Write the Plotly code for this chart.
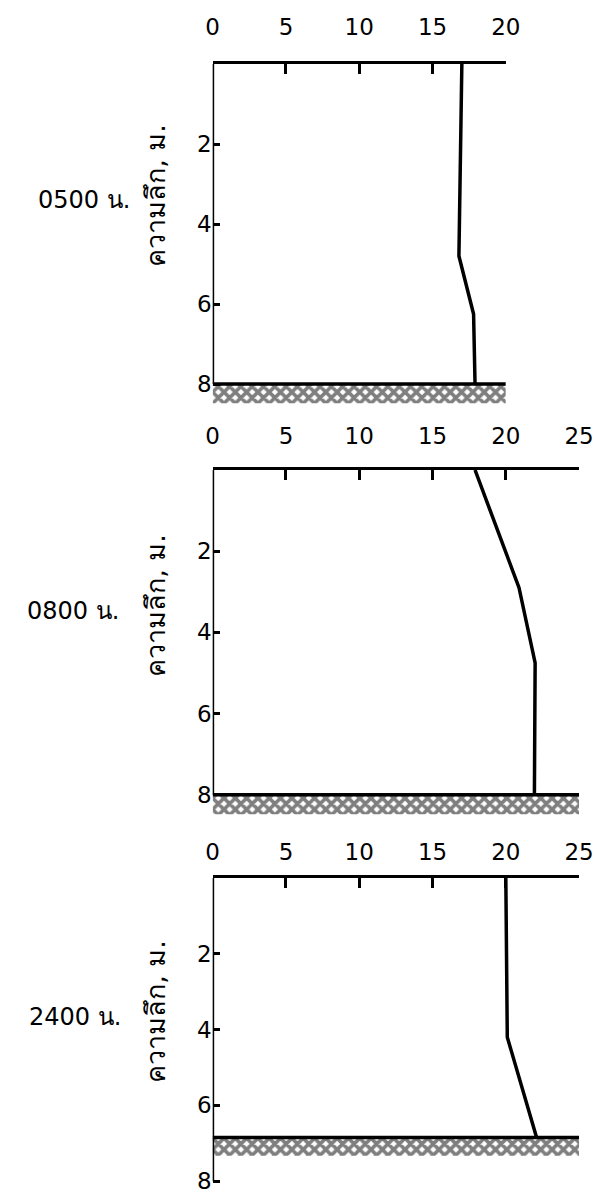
import plotly.graph_objects as go

# ---- data ----
times = ["0500 น.", "0800 น.", "2400 น."]
depth_0500 = [0, 4.8, 6.25, 8]
temp_0500 = [17.0, 16.8, 17.8, 17.9]
depth_0800 = [0, 2.9, 4.75, 8]
temp_0800 = [17.9, 20.9, 22.0, 21.95]
depth_2400 = [0, 4.2, 6.85]
temp_2400 = [20.0, 20.1, 22.1]
bottom_depth = [8, 8, 6.85]
x_max = [20, 25, 25]
x_ticks = [[0, 5, 10, 15, 20], [0, 5, 10, 15, 20, 25], [0, 5, 10, 15, 20, 25]]
y_ticks = [2, 4, 6, 8]
y_title = "ความลึก, ม."

W, H = 616, 1192
FONT = "DejaVu Sans, Noto Sans, sans-serif"

panels = [
    dict(left=205, top=56, unit=40.0, ymax=8.6, standoff=17, tx=145, ty=187, lx=22, ly=192),
    dict(left=205, top=462, unit=40.6, ymax=8.6, standoff=14, tx=145, ty=597, lx=10, ly=603),
    dict(left=205, top=870, unit=37.9, ymax=8.4, standoff=6, tx=145, ty=1003, lx=12, ly=1009),
]
px_per_x = 15.2

series = [(temp_0500, depth_0500), (temp_0800, depth_0800), (temp_2400, depth_2400)]

fig = go.Figure()
layout = {}
shapes = []
annotations = []
for i, p in enumerate(panels):
    n = "" if i == 0 else str(i + 1)
    xa, ya = "x" + n, "y" + n
    right = p["left"] + x_max[i] * px_per_x
    bottom_px = min(p["top"] + p["ymax"] * p["unit"], H)
    layout["xaxis" + n] = dict(
        domain=[p["left"] / W, right / W], range=[0, x_max[i]], anchor=ya,
        side="top", showline=True, linecolor="black", linewidth=3,
        ticks="inside", ticklen=10, tickwidth=2.5, tickcolor="black",
        tickvals=x_ticks[i], showgrid=False, zeroline=False,
        tickfont=dict(family=FONT, size=23, color="black"),
        ticklabelstandoff=p["standoff"],
    )
    layout["yaxis" + n] = dict(
        domain=[1 - bottom_px / H, 1 - p["top"] / H],
        range=[(bottom_px - p["top"]) / p["unit"], 0], anchor=xa,
        showline=False, ticks="inside", ticklen=7, tickwidth=2.5, tickcolor="black",
        tickvals=y_ticks, showgrid=False, zeroline=False, ticklabeloverflow="allow",
        tickfont=dict(family=FONT, size=23, color="black"),
    )
    shapes.append(dict(type="line", xref=xa, yref=ya, x0=0, x1=0, y0=0, y1=8,
                       line=dict(color="black", width=3)))
    shapes.append(dict(type="line", xref=xa, yref=ya, x0=0, x1=x_max[i],
                       y0=bottom_depth[i], y1=bottom_depth[i],
                       line=dict(color="black", width=3.5)))
    bd = bottom_depth[i]
    hh = 0.48
    fig.add_trace(go.Scatter(
        x=[0, x_max[i], x_max[i], 0, 0], y=[bd, bd, bd + hh, bd + hh, bd],
        xaxis=xa, yaxis=ya, mode="lines", fill="toself", line=dict(width=0),
        fillcolor="white",
        fillpattern=dict(shape="x", size=8, solidity=0.7, fgcolor="black", bgcolor="white"),
        hoverinfo="skip", showlegend=False))
    t, d = series[i]
    fig.add_trace(go.Scatter(x=t, y=d, xaxis=xa, yaxis=ya, mode="lines",
                             line=dict(color="black", width=3.5), showlegend=False))
    annotations.append(dict(text=y_title, xref="paper", yref="paper",
                            x=p["tx"] / W, y=1 - p["ty"] / H, textangle=-90,
                            showarrow=False, xanchor="center", yanchor="middle",
                            font=dict(family=FONT, size=27, color="black")))
    annotations.append(dict(text=times[i], xref="paper", yref="paper",
                            x=p["lx"] / W, y=1 - p["ly"] / H,
                            showarrow=False, xanchor="left", yanchor="middle",
                            font=dict(family=FONT, size=24, color="black")))

fig.update_layout(width=W, height=H, margin=dict(l=0, r=0, t=0, b=0),
                  paper_bgcolor="white", plot_bgcolor="white",
                  shapes=shapes, annotations=annotations, **layout)
fig.write_html("out.html")
